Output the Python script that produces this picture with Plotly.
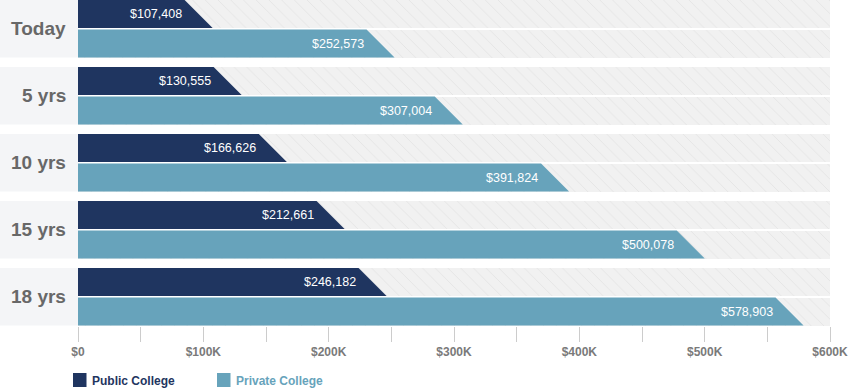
import plotly.graph_objects as go

categories = ["Today", "5 yrs", "10 yrs", "15 yrs", "18 yrs"]
public_values = [107408, 130555, 166626, 212661, 246182]
private_values = [252573, 307004, 391824, 500078, 578903]
tick_values = [0, 100000, 200000, 300000, 400000, 500000, 600000]
tick_labels = ["$0", "$100K", "$200K", "$300K", "$400K", "$500K", "$600K"]
series_names = ["Public College", "Private College"]

PUBLIC_COLOR = "#1f3560"
PRIVATE_COLOR = "#67a3bb"
FONT = "Liberation Sans, Arial, Helvetica, sans-serif"

W, H = 851, 388
ML, MR, MT, MB = 78, 21, 0, 62
PW = W - ML - MR
PH = H - MT - MB
XMAX = 600000

STEP = 67
BAR_H = 28
GAP = 1.5
SLANT = 28 * XMAX / PW  # slanted end width in data units


def row_centers(i):
    top = i * STEP
    return top + BAR_H / 2, top + BAR_H + GAP + BAR_H / 2


fig = go.Figure()

# hatched background bars
bg_y = []
for i in range(len(categories)):
    a, b = row_centers(i)
    bg_y += [a, b]
fig.add_trace(go.Bar(
    x=[XMAX] * len(bg_y), y=bg_y, orientation="h", width=BAR_H,
    marker=dict(color="#f1f1f1", line=dict(width=0),
                pattern=dict(shape="\\", size=9, solidity=0.1,
                             fgcolor="#e4e4e4", bgcolor="#f1f1f1", fillmode="replace")),
    hoverinfo="skip", showlegend=False,
))

shapes = []
annotations = []

for i, cat in enumerate(categories):
    yc_pub, yc_priv = row_centers(i)
    for val, yc, color in ((public_values[i], yc_pub, PUBLIC_COLOR),
                           (private_values[i], yc_priv, PRIVATE_COLOR)):
        top, bot = yc - BAR_H / 2, yc + BAR_H / 2
        fig.add_trace(go.Scatter(
            x=[0, val - SLANT, val, 0, 0],
            y=[top, top, bot, bot, top],
            mode="lines", fill="toself", fillcolor=color,
            line=dict(width=0, color=color), hoverinfo="skip", showlegend=False,
        ))
        annotations.append(dict(
            x=val - SLANT, y=yc, xref="x", yref="y", text=f"${val:,}",
            showarrow=False, xanchor="right", yanchor="middle", xshift=-1,
            font=dict(family=FONT, size=12.5, color="white"),
        ))
    # label panel
    gtop = i * STEP
    gbot = gtop + 2 * BAR_H + GAP
    shapes.append(dict(type="rect", xref="paper", yref="y",
                       x0=-ML / PW, x1=0, y0=gtop, y1=gbot,
                       fillcolor="#f4f5f7", line=dict(width=0), layer="below"))
    annotations.append(dict(
        x=-10 / PW, y=(gtop + gbot) / 2, xref="paper", yref="y", text=f"<b>{cat}</b>",
        showarrow=False, xanchor="right", yanchor="middle",
        font=dict(family=FONT, size=19, color="#686868"),
    ))

# manual legend
def px_to_paper_x(px):
    return (px - ML) / PW


def py_to_paper_y(py):
    return (MT + PH - py) / PH


legend_items = [(series_names[0], PUBLIC_COLOR, 73), (series_names[1], PRIVATE_COLOR, 217)]
for name, color, x0 in legend_items:
    shapes.append(dict(type="rect", xref="paper", yref="paper",
                       x0=px_to_paper_x(x0), x1=px_to_paper_x(x0 + 13.5),
                       y0=py_to_paper_y(373), y1=py_to_paper_y(387),
                       fillcolor=color, line=dict(width=0)))
    annotations.append(dict(
        x=px_to_paper_x(x0 + 17), y=py_to_paper_y(380.5), xref="paper", yref="paper",
        text=f"<b>{name}</b>", showarrow=False, xanchor="left", yanchor="middle",
        font=dict(family=FONT, size=12, color=color),
    ))

fig.update_layout(
    width=W, height=H,
    margin=dict(l=ML, r=MR, t=MT, b=MB, pad=0),
    paper_bgcolor="white", plot_bgcolor="white",
    showlegend=False, bargap=0,
    shapes=shapes, annotations=annotations,
    xaxis=dict(range=[0, XMAX], tickvals=tick_values, ticktext=tick_labels,
               ticks="outside", ticklen=15, tickcolor="#cccccc", tickwidth=1,
               showgrid=False, zeroline=False, showline=False,
               tickfont=dict(family=FONT, size=12, color="#7a7a7a", weight="bold"),
               minor=dict(dtick=50000, ticks="outside", ticklen=15, tickcolor="#cccccc",
                          tickwidth=1, showgrid=False),
               fixedrange=True),
    yaxis=dict(range=[PH, 0], showgrid=False, zeroline=False, showline=False,
               showticklabels=False, ticks="", fixedrange=True),
)

fig.write_html("out.html", config={"displayModeBar": False},
               post_script="document.body.style.margin='0';document.body.style.overflow='hidden';")
